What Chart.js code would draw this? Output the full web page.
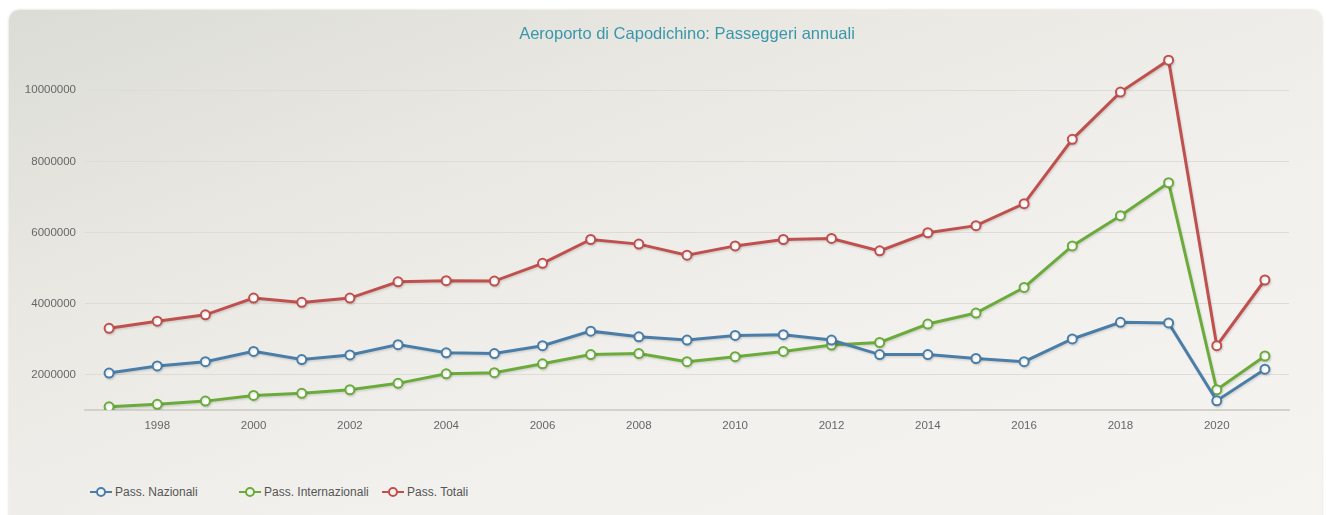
<!DOCTYPE html>
<html>
<head>
<meta charset="utf-8">
<script src="https://cdn.jsdelivr.net/npm/chart.js@4.4.1/dist/chart.umd.min.js"></script>
<style>
    body { margin: 0; background: #fff; width: 1326px; height: 515px; overflow: hidden; position: relative; font-family: "Liberation Sans", Arial, sans-serif; }
    .card { position: absolute; left: 9px; top: 10px; width: 1313px; height: 530px; border-radius: 10px;
        background: linear-gradient(160deg, #dcdcd7 0%, #e9e8e3 30%, #f2f0ec 60%, #f6f4f0 100%);
        box-shadow: 0 0 3px rgba(0,0,0,0.18); }
    #chart { position: absolute; left: 0; top: 0; }
    .legendItem { position: absolute; top: 484px; height: 16px; display: flex; align-items: center; font-size: 12px; color: #555; white-space: nowrap; }
    .legendItem .mark { position: relative; width: 22px; height: 16px; margin-right: 3px; }
    .legendItem .mark .ln { position: absolute; left: 0; right: 0; top: 7px; height: 2px; }
    .legendItem .mark .dot { position: absolute; left: 6px; top: 3px; width: 6px; height: 6px; border-radius: 50%; border: 2px solid; background: #f4f2ee; }
</style>
</head>
<body>
<div class="card"></div>
<canvas id="chart" width="1326" height="445"></canvas>
<div id="legend"></div>
<script>
const years = ['1997', '1998', '1999', '2000', '2001', '2002', '2003', '2004', '2005', '2006', '2007', '2008', '2009',
    '2010', '2011', '2012', '2013', '2014', '2015', '2016', '2017', '2018', '2019', '2020', '2021']
const nazionali = [2040000, 2240000, 2360000, 2650000, 2420000, 2550000, 2840000, 2610000, 2590000, 2810000, 3220000, 3060000, 2970000,
    3100000, 3120000, 2970000, 2560000, 2560000, 2450000, 2360000, 3000000, 3470000, 3450000, 1260000, 2150000]
const internazionali = [1090000, 1160000, 1250000, 1410000, 1470000, 1570000, 1750000, 2020000, 2050000, 2300000, 2560000, 2590000, 2360000,
    2500000, 2650000, 2830000, 2900000, 3420000, 3730000, 4450000, 5620000, 6470000, 7400000, 1570000, 2520000]
const totali = [3300000, 3500000, 3680000, 4150000, 4030000, 4150000, 4610000, 4640000, 4630000, 5130000, 5800000, 5670000, 5360000,
    5620000, 5800000, 5830000, 5480000, 5990000, 6190000, 6810000, 8620000, 9950000, 10850000, 2810000, 4660000]
const yTicks = [2000000, 4000000, 6000000, 8000000, 10000000]
const seriesNames = ['Pass. Nazionali', 'Pass. Internazionali', 'Pass. Totali']
const seriesColors = ['#4a7ea8', '#6aab3b', '#c0504d']

// legend is plain html, laid out like the original
const legendLeft = [90, 239, 382]
const legend = document.getElementById('legend')
seriesNames.forEach((name, i) => {
    legend.insertAdjacentHTML('beforeend', `<div class="legendItem" style="left:${legendLeft[i]}px">
        <span class="mark"><span class="ln" style="background:${seriesColors[i]}"></span><span class="dot" style="border-color:${seriesColors[i]}"></span></span>${name}</div>`)
})

// soft shadow under the lines
const lineShadow = {
    id: 'lineShadow',
    beforeDatasetsDraw(chart) {
        const ctx = chart.ctx
        ctx.save()
        ctx.shadowColor = 'rgba(0,0,0,0.12)'
        ctx.shadowOffsetX = 1
        ctx.shadowOffsetY = 1.5
        ctx.shadowBlur = 2
    },
    afterDatasetsDraw(chart) {
        chart.ctx.restore()
    }
}

function makeSet(label, data, color) {
    return {
        label: label,
        data: data,
        borderColor: color,
        backgroundColor: color,
        borderWidth: 3,
        pointRadius: 4.5,
        pointHoverRadius: 4.5,
        pointBorderWidth: 2,
        pointBorderColor: color,
        pointBackgroundColor: '#ffffff',
        tension: 0,
        fill: false
    }
}

const ctx = document.getElementById('chart').getContext('2d')
new Chart(ctx, {
    type: 'line',
    data: {
        labels: years,
        datasets: [
            makeSet(seriesNames[0], nazionali, seriesColors[0]),
            makeSet(seriesNames[1], internazionali, seriesColors[1]),
            makeSet(seriesNames[2], totali, seriesColors[2])
        ]
    },
    plugins: [lineShadow],
    options: {
        responsive: false,
        animation: false,
        layout: { padding: { left: 0, right: 37, top: 0, bottom: 0 } },
        plugins: {
            legend: { display: false },
            tooltip: { enabled: false },
            title: {
                display: true,
                fullSize: false,
                text: 'Aeroporto di Capodichino: Passeggeri annuali',
                color: '#3a97aa',
                font: { family: '"Liberation Sans", Arial, sans-serif', size: 16.5, weight: 'normal', lineHeight: 1.2 },
                padding: { top: 25, bottom: 10 }
            }
        },
        scales: {
            x: {
                offset: true,
                grid: { display: false, drawTicks: false },
                border: { display: true, color: '#d2d1cc', width: 2 },
                ticks: {
                    autoSkip: false,
                    maxRotation: 0,
                    padding: 9,
                    color: '#666',
                    font: { family: '"Liberation Sans", Arial, sans-serif', size: 11.5 },
                    callback: function (value, index) {
                        const y = this.getLabelForValue(value)
                        return Number(y) % 2 === 0 ? y : ''
                    }
                },
                afterFit: scale => { scale.height = 35 }
            },
            y: {
                min: 1000000,
                max: 11000000,
                grid: { color: '#dddcd7', lineWidth: 1, drawTicks: false },
                border: { display: false },
                ticks: {
                    padding: 9,
                    color: '#666',
                    font: { family: '"Liberation Sans", Arial, sans-serif', size: 11.5 },
                    callback: v => String(v)
                },
                afterBuildTicks: scale => { scale.ticks = yTicks.map(v => ({ value: v })) },
                afterFit: scale => { scale.width = 85 }
            }
        }
    }
})
</script>
</body>
</html>
